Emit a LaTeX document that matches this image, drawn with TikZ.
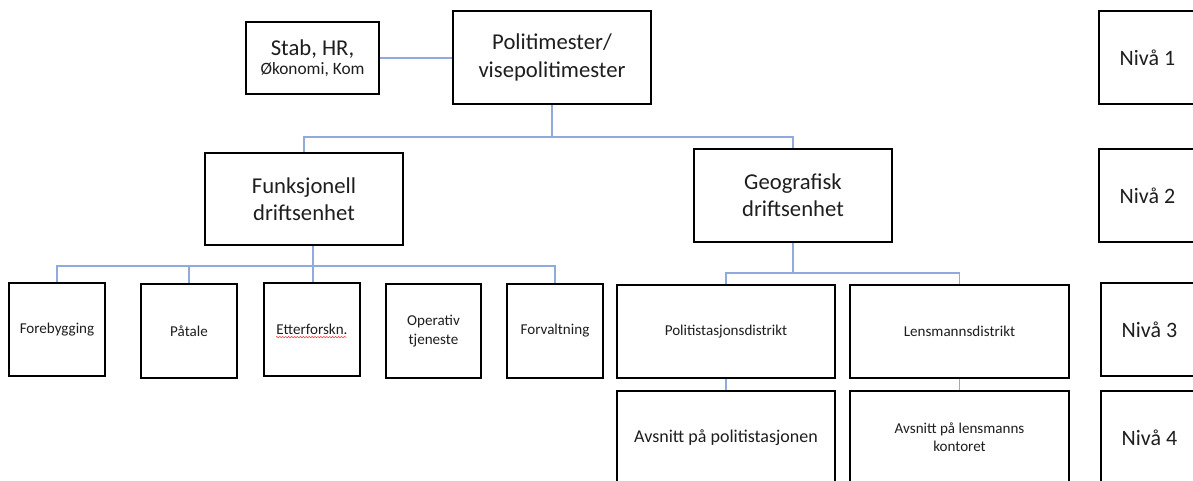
\documentclass[tikz,border=0pt]{standalone}
\usepackage{fontspec}
\setmainfont{Carlito}
\usetikzlibrary{decorations.pathmorphing}
\definecolor{conn}{RGB}{143,170,220}
\definecolor{txt}{RGB}{30,30,30}
\tikzset{
  bx/.style 2 args={draw=black, line width=1.3pt, minimum width=#1*0.75pt, minimum height=#2*0.75pt, inner sep=0pt, align=center, text=txt},
  big/.style={font=\fontsize{17}{20.5}\selectfont},
  lvl/.style={font=\fontsize{16.5}{20}\selectfont},
  small/.style={font=\fontsize{11.3}{14}\selectfont},
  mid/.style={font=\fontsize{13.5}{16}\selectfont},
  link/.style={draw=conn, line width=0.9pt},
}
\begin{document}
\begin{tikzpicture}[x=0.75pt, y=-0.75pt]
\useasboundingbox (0,0) rectangle (1193,480);
\clip (0,0) rectangle (1193,480);
\fill[white] (0,0) rectangle (1193,480);
% level 1
\node[bx={133}{72}] (stab) at (312.5,58) {\fontsize{17}{17}\selectfont Stab, HR,\\[2.5pt]\fontsize{13}{15}\selectfont Økonomi, Kom};
\node[bx={198}{93}, big] (pm) at (552,57.5) {Politimester/\\visepolitimester};
% level 2
\node[bx={198}{92}, big] (funk) at (304,199) {Funksjonell\\driftsenhet};
\node[bx={198}{93}, big] (geo) at (793,195.5) {Geografisk\\driftsenhet};
% level 3
\node[bx={96}{93}, small] (fore) at (57,329.5) {Forebygging};
\node[bx={96}{94}, small] (pat) at (189,331) {Påtale};
\node[bx={96}{93}, small] (ett) at (312,329.5) {Etterforskn.};
\node[bx={95}{94}, small] (ope) at (433.5,331) {Operativ\\tjeneste};
\node[bx={96}{94}, small] (forv) at (555,331) {Forvaltning};
\node[bx={218}{93}, small] (pol) at (726,331.5) {Politistasjonsdistrikt};
\node[bx={219}{93}, small] (lens) at (959.5,331.5) {Lensmannsdistrikt};
% level 4
\node[bx={218}{93}, mid] (avp) at (726,437.5) {Avsnitt på politistasjonen};
\node[bx={219}{93}, font=\fontsize{11.3}{13.5}\selectfont] (avl) at (959.5,437.5) {Avsnitt på lensmanns\\kontoret};
% level labels
\node[bx={97}{93}, lvl] (n1) at (1147.5,57.5) {Nivå 1};
\node[bx={97}{93}, lvl] (n2) at (1147.5,195.5) {Nivå 2};
\node[bx={97}{93}, lvl] (n3) at (1149.5,329.5) {Nivå 3};
\node[bx={97}{93}, lvl] (n4) at (1149.5,437.5) {Nivå 4};
% spell-check underline
\draw[red!80, line width=0.4pt, decorate, decoration={snake, amplitude=0.5pt, segment length=2.2pt}]
  ([xshift=-27pt, yshift=-5.7pt]ett.center) -- ([xshift=26pt, yshift=-5.7pt]ett.center);
% connectors
\coordinate (b1) at (552,137);
\coordinate (b2) at (313,266);
\coordinate (b3) at (793,273);
\path[link] (stab.east) -- (stab.east -| pm.west);
\path[link] (pm.south) -- (b1);
\path[link] (funk.north) |- (b1) -| (geo.north);
\path[link] (funk.south -| b2) -- (b2);
\path[link] (fore.north) |- (b2) -| (forv.north);
\path[link] (pat.north) -- (pat.north |- b2);
\path[link] (ett.north -| b2) -- (b2);
\path[link] (geo.south) -- (b3);
\path[link] (pol.north) |- (b3) -| (lens.north);
\path[link] (pol.south) -- (avp.north);
\path[link] (lens.south) -- (avl.north);
\end{tikzpicture}
\end{document}
